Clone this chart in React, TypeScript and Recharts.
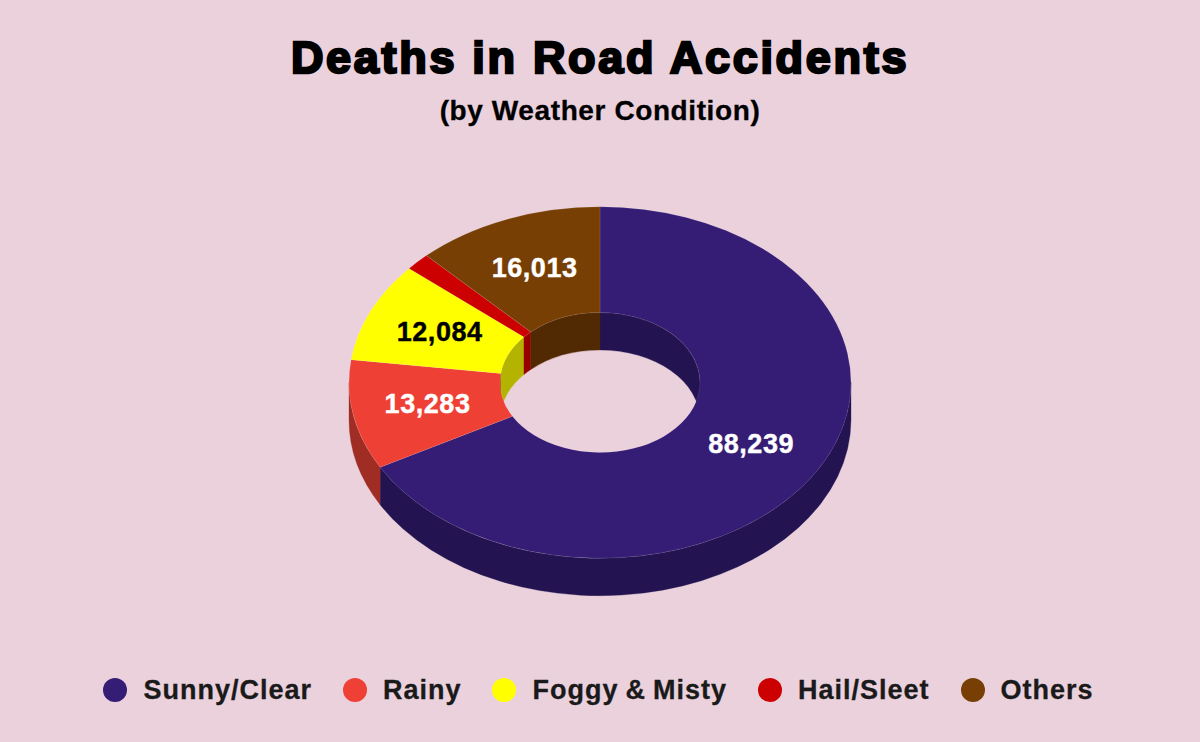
import React from "react";
import { PieChart, Pie, Legend } from "recharts";

const categories = ["Sunny/Clear", "Rainy", "Foggy & Misty", "Hail/Sleet", "Others"];
const deaths = [88239, 13283, 12084, 2100, 16013];
const colors = ["#351c75", "#ee4035", "#ffff00", "#cc0000", "#783f04"];
const wallColors = ["#231350", "#a02d24", "#b3b300", "#990000", "#512a03"];
const labelColors = ["#ffffff", "#ffffff", "#000000", null, "#ffffff"];

const data = categories.map((name, i) => ({
  name,
  value: deaths[i],
  fill: colors[i],
  wall: wallColors[i],
  labelColor: labelColors[i],
}));

const SQUASH = 0.7;
const DEPTH = 37.5;
const FONT = "'Liberation Sans', Arial, sans-serif";

const pt = (cx: number, cy: number, r: number, deg: number) => {
  const a = (deg * Math.PI) / 180;
  return [cx + r * Math.cos(a), cy - r * SQUASH * Math.sin(a)];
};

// arc from a1 down to a2 (clockwise on screen) in the squashed plane
const arcTo = (cx: number, cy: number, r: number, a1: number, a2: number) => {
  const [x, y] = pt(cx, cy, r, a2);
  const sweep = a1 > a2 ? 1 : 0;
  const large = Math.abs(a1 - a2) > 180 ? 1 : 0;
  return `A ${r} ${r * SQUASH} 0 ${large} ${sweep} ${x} ${y}`;
};

const TopSector = (p: any) => {
  const { cx, cy, innerRadius: ri, outerRadius: ro, startAngle: s, endAngle: e, fill } = p;
  const [x0, y0] = pt(cx, cy, ro, s);
  const [x1, y1] = pt(cx, cy, ri, e);
  const d = `M ${x0} ${y0} ${arcTo(cx, cy, ro, s, e)} L ${x1} ${y1} ${arcTo(cx, cy, ri, e, s)} Z`;
  return <path d={d} fill={fill} stroke="#ffffff" strokeOpacity={0.16} strokeWidth={0.6} />;
};

const wallBand = (cx: number, cy: number, r: number, a: number, b: number, fill: string, key: string) => {
  const [x0, y0] = pt(cx, cy, r, a);
  const [x1, y1] = pt(cx, cy + DEPTH, r, b);
  const d = `M ${x0} ${y0} ${arcTo(cx, cy, r, a, b)} L ${x1} ${y1} ${arcTo(cx, cy + DEPTH, r, b, a)} Z`;
  return <path key={key} d={d} fill={fill} stroke={fill} strokeWidth={0.3} />;
};

const WallSector = (p: any) => {
  const { cx, cy, innerRadius: ri, outerRadius: ro, startAngle: s, endAngle: e, payload } = p;
  const wall = payload?.wall ?? p.wall;
  const parts: React.ReactNode[] = [];
  const clip = (lo: number, hi: number, r: number, key: string) => {
    const a = Math.min(s, hi);
    const b = Math.max(e, lo);
    if (a > b) parts.push(wallBand(cx, cy, r, a, b, wall, key));
  };
  clip(-180, 0, ro, "outer");
  clip(0, 90, ri, "innerA");
  clip(-270, -180, ri, "innerB");
  return <g>{parts}</g>;
};

const renderLabel = (p: any) => {
  const { cx, cy, innerRadius: ri, outerRadius: ro, midAngle, index } = p;
  const color = labelColors[index];
  if (!color) return null;
  const [x, y] = pt(cx, cy, (ri + ro) / 2, midAngle);
  return (
    <text
      x={x}
      y={y - 0.8}
      fill={color}
      stroke={color}
      strokeWidth={0.4}
      textAnchor="middle"
      dominantBaseline="central"
      fontFamily={FONT}
      fontWeight="bold"
      fontSize={27}
      letterSpacing={0.55}
    >
      {deaths[index].toLocaleString("en-US")}
    </text>
  );
};

const LegendRow = () => (
  <div style={{ display: "flex", justifyContent: "center", alignItems: "center", gap: 31, marginLeft: -3 }}>
    {categories.map((name, i) => (
      <div key={name} style={{ display: "flex", alignItems: "center", gap: 16 }}>
        <span style={{ width: 24, height: 24, borderRadius: "50%", background: colors[i], display: "block" }} />
        <span
          style={{
            fontFamily: FONT,
            fontWeight: "bold",
            fontSize: 27,
            letterSpacing: 1,
            wordSpacing: -1.5,
            color: "#1a1a1a",
            lineHeight: "30px",
            WebkitTextStroke: "0.3px #1a1a1a",
          }}
        >
          {name}
        </span>
      </div>
    ))}
  </div>
);

export default function App() {
  return (
    <div style={{ position: "absolute", left: 0, top: 0, width: 1200, height: 742, background: "#ead1dc", overflow: "hidden" }}>
      <div
        style={{
          position: "absolute",
          left: 0,
          width: 1200,
          top: 29,
          textAlign: "center",
          fontFamily: FONT,
          fontWeight: "bold",
          fontSize: 45,
          lineHeight: "58px",
          letterSpacing: 2.7,
          color: "#000",
          WebkitTextStroke: "2.4px #000",
        }}
      >
        Deaths in Road Accidents
      </div>
      <div
        style={{
          position: "absolute",
          left: 0,
          width: 1200,
          top: 94,
          textAlign: "center",
          fontFamily: FONT,
          fontWeight: "bold",
          fontSize: 28,
          lineHeight: "34px",
          letterSpacing: 0.6,
          color: "#000",
          WebkitTextStroke: "0.3px #000",
        }}
      >
        (by Weather Condition)
      </div>
      <PieChart width={1200} height={742} margin={{ top: 0, right: 0, bottom: 0, left: 0 }}>
        <Pie
          data={data}
          dataKey="value"
          nameKey="name"
          cx={600}
          cy={382.5}
          innerRadius={100}
          outerRadius={251}
          startAngle={90}
          endAngle={-270}
          legendType="none"
          shape={WallSector}
          isAnimationActive={false}
        />
        <Pie
          data={data}
          dataKey="value"
          nameKey="name"
          cx={600}
          cy={382.5}
          innerRadius={100}
          outerRadius={251}
          startAngle={90}
          endAngle={-270}
          legendType="circle"
          shape={TopSector}
          label={renderLabel}
          labelLine={false}
          isAnimationActive={false}
        />
        <Legend
          content={LegendRow}
          wrapperStyle={{ position: "absolute", left: 0, width: 1200, top: 675, bottom: "auto" }}
        />
      </PieChart>
    </div>
  );
}
